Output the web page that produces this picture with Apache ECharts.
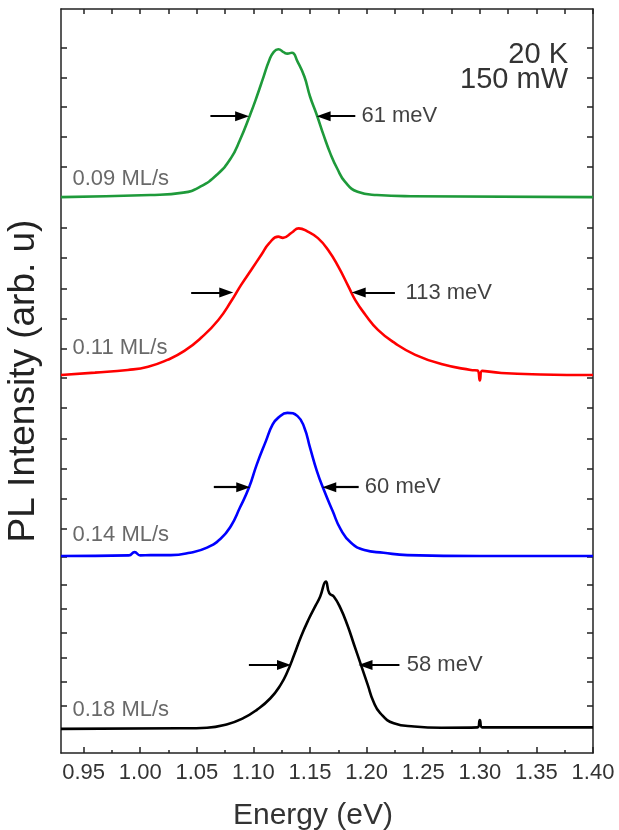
<!DOCTYPE html>
<html>
<head>
<meta charset="utf-8">
<script src="https://cdn.jsdelivr.net/npm/echarts@6/dist/echarts.min.js"></script>
<style>
  html, body { margin: 0; padding: 0; background: #fff; }
  #chart { width: 619px; height: 830px; }
</style>
</head>
<body>
<div id="chart"></div>
<script>
// 各曲线数据（能量 eV / 相对强度），按读图取点
var greenE = [0.930, 1.009, 1.038, 1.053, 1.068, 1.080, 1.088, 1.097, 1.103, 1.109, 1.114, 1.118, 1.122, 1.127, 1.130, 1.134, 1.139, 1.145, 1.150, 1.156, 1.162, 1.168, 1.174, 1.181, 1.192, 1.209, 1.239, 1.400];
var greenI = [0, 0.07, 0.15, 0.35, 0.76, 1.30, 1.91, 2.76, 3.38, 4.05, 4.60, 4.88, 4.97, 4.86, 4.82, 4.85, 4.55, 4.05, 3.38, 2.76, 2.08, 1.46, 0.96, 0.51, 0.18, 0.07, 0.03, 0];

var redE = [0.930, 0.960, 0.989, 1.007, 1.024, 1.039, 1.054, 1.069, 1.081, 1.089, 1.098, 1.107, 1.114, 1.122, 1.126, 1.134, 1.140, 1.148, 1.157, 1.166, 1.175, 1.184, 1.190, 1.199, 1.210, 1.225, 1.243, 1.266, 1.292, 1.298, 1.300, 1.302, 1.319, 1.354, 1.400];
var redI = [0.03, 0.11, 0.20, 0.31, 0.54, 0.84, 1.29, 1.88, 2.55, 3.05, 3.56, 4.07, 4.46, 4.68, 4.64, 4.82, 4.96, 4.85, 4.63, 4.23, 3.67, 3.00, 2.55, 2.05, 1.55, 1.10, 0.71, 0.40, 0.20, 0.18, -0.15, 0.17, 0.10, 0.05, 0.03];

var blueE = [0.930, 0.990, 0.995, 1.000, 1.009, 1.027, 1.044, 1.059, 1.071, 1.080, 1.088, 1.096, 1.103, 1.111, 1.117, 1.122, 1.130, 1.139, 1.145, 1.150, 1.156, 1.162, 1.170, 1.177, 1.186, 1.198, 1.215, 1.236, 1.300, 1.400];
var blueI = [0, 0.02, 0.13, 0.02, 0.03, 0.03, 0.11, 0.28, 0.58, 1.00, 1.62, 2.29, 3.08, 3.86, 4.42, 4.65, 4.81, 4.70, 4.31, 3.64, 2.86, 2.24, 1.51, 0.90, 0.45, 0.20, 0.11, 0.03, 0.0, 0];

var blackE = [0.930, 1.035, 1.059, 1.077, 1.091, 1.103, 1.115, 1.124, 1.130, 1.136, 1.142, 1.149, 1.155, 1.159, 1.164, 1.167, 1.171, 1.177, 1.183, 1.189, 1.195, 1.201, 1.206, 1.212, 1.224, 1.242, 1.266, 1.298, 1.300, 1.302, 1.400];
var blackI = [0, 0.02, 0.04, 0.16, 0.36, 0.64, 1.03, 1.48, 1.92, 2.49, 3.10, 3.70, 4.15, 4.45, 4.95, 4.56, 4.45, 4.05, 3.49, 2.82, 2.15, 1.48, 0.92, 0.53, 0.19, 0.08, 0.04, 0.05, 0.30, 0.05, 0.05];

// 垂直偏移（堆叠显示）
var offsets = [18.68, 12.67, 6.62, 0.81];
var rates = ['0.09 ML/s', '0.11 ML/s', '0.14 ML/s', '0.18 ML/s'];
var rateY = [19.29, 13.61, 7.33, 1.44];
var fwhmText = ['61 meV', '113 meV', '60 meV', '58 meV'];
var fwhmY = [21.40, 15.47, 8.93, 2.96];
var fwhmTextX = [1.195, 1.234, 1.198, 1.235];
// 箭头：左侧 [起点, 终点]，右侧 [起点, 终点]
var arrowLeft = [[1.062, 1.090], [1.045, 1.076], [1.065, 1.091], [1.096, 1.127]];
var arrowRight = [[1.190, 1.162], [1.225, 1.193], [1.193, 1.167], [1.229, 1.199]];

var xMajor = [0.95, 1.00, 1.05, 1.10, 1.15, 1.20, 1.25, 1.30, 1.35, 1.40];
var xMinor = [0.975, 1.025, 1.075, 1.125, 1.175, 1.225, 1.275, 1.325, 1.375];
var yTicks = [1.6, 2.4, 3.2, 4.05, 4.85, 5.65, 6.6, 7.55, 8.55, 9.55, 10.55, 11.6, 12.6, 13.6, 14.6, 15.6, 16.65, 17.65, 18.7, 19.7, 20.7, 21.7, 22.7, 23.7];

var colors = ['#1e9a3a', '#ff0000', '#0000ff', '#000000'];
var curves = [[greenE, greenI], [redE, redI], [blueE, blueI], [blackE, blackI]];
var font = 'Liberation Sans';

var chart = echarts.init(document.getElementById('chart'));

var series = curves.map(function (c, k) {
    var data = c[0].map(function (e, i) { return [e, offsets[k] + c[1][i]]; });
    return {
        type: 'line',
        data: data,
        showSymbol: false,
        smooth: 0.5,
        lineStyle: { color: colors[k], width: 2.6 },
        itemStyle: { color: colors[k] },
        silent: true,
        z: 3,
        markLine: {
            silent: true,
            symbol: ['none', 'triangle'],
            symbolSize: [10, 14],
            label: { show: false },
            lineStyle: { color: '#000', width: 2.2, type: 'solid' },
            data: [
                [{ coord: [arrowLeft[k][0], fwhmY[k]] }, { coord: [arrowLeft[k][1], fwhmY[k]] }],
                [{ coord: [arrowRight[k][0], fwhmY[k]] }, { coord: [arrowRight[k][1], fwhmY[k]] }]
            ]
        }
    };
});

var textData = [];
rates.forEach(function (t, k) {
    textData.push({ value: [0.9397, rateY[k]], label: { formatter: t, color: '#444' } });
});
fwhmText.forEach(function (t, k) {
    textData.push({ value: [fwhmTextX[k], fwhmY[k]], label: { formatter: t, color: '#111' } });
});

series.push({
    type: 'scatter',
    data: textData,
    symbolSize: 1,
    itemStyle: { color: 'rgba(0,0,0,0)' },
    silent: true,
    label: {
        show: true,
        position: 'right',
        distance: 0,
        fontFamily: font,
        fontSize: 22
    }
});

var axisLineStyle = { color: '#222', width: 1.5 };

var option = {
    animation: false,
    backgroundColor: '#fff',
    grid: { left: 61, right: 26, top: 9, bottom: 77, outerBoundsMode: 'none' },
    xAxis: [
        {
            type: 'value', min: 0.93, max: 1.40, position: 'bottom',
            axisLine: { show: true, onZero: false, lineStyle: axisLineStyle },
            axisTick: { show: true, inside: true, length: 6, customValues: xMajor, lineStyle: axisLineStyle },
            axisLabel: {
                customValues: xMajor, margin: 9, fontSize: 22, fontFamily: font, color: '#333',
                formatter: function (v) { return v.toFixed(2); }
            },
            splitLine: { show: false },
            name: 'Energy (eV)', nameLocation: 'middle', nameGap: 48,
            nameTextStyle: { fontSize: 30, fontFamily: font, color: '#333', padding: [0, 28, 0, 0] }
        },
        {
            type: 'value', min: 0.93, max: 1.40, position: 'bottom',
            axisLine: { show: false },
            axisTick: { show: true, inside: true, length: 3, customValues: xMinor, lineStyle: axisLineStyle },
            axisLabel: { show: false },
            splitLine: { show: false }
        },
        {
            type: 'value', min: 0.93, max: 1.40, position: 'top',
            axisLine: { show: true, onZero: false, lineStyle: axisLineStyle },
            axisTick: { show: true, inside: true, length: 5, customValues: xMajor.concat(xMinor), lineStyle: axisLineStyle },
            axisLabel: { show: false },
            splitLine: { show: false }
        }
    ],
    yAxis: [
        {
            type: 'value', min: 0, max: 25, position: 'left',
            axisLine: { show: true, onZero: false, lineStyle: axisLineStyle },
            axisTick: { show: true, inside: true, length: 6, customValues: yTicks, lineStyle: axisLineStyle },
            axisLabel: { show: false },
            splitLine: { show: false },
            name: 'PL Intensity (arb. u)', nameLocation: 'middle', nameGap: 19, nameRotate: 90,
            nameTextStyle: { fontSize: 37, fontFamily: font, color: '#222' }
        },
        {
            type: 'value', min: 0, max: 25, position: 'right',
            axisLine: { show: true, onZero: false, lineStyle: axisLineStyle },
            axisTick: { show: true, inside: true, length: 6, customValues: yTicks, lineStyle: axisLineStyle },
            axisLabel: { show: false },
            splitLine: { show: false }
        }
    ],
    graphic: [
        { type: 'text', x: 568, y: 55, style: { text: '20 K', align: 'right', verticalAlign: 'middle', font: '29px Liberation Sans', fill: '#333' } },
        { type: 'text', x: 568, y: 80, style: { text: '150 mW', align: 'right', verticalAlign: 'middle', font: '29px Liberation Sans', fill: '#333' } }
    ],
    series: series
};

chart.setOption(option);
</script>
</body>
</html>
